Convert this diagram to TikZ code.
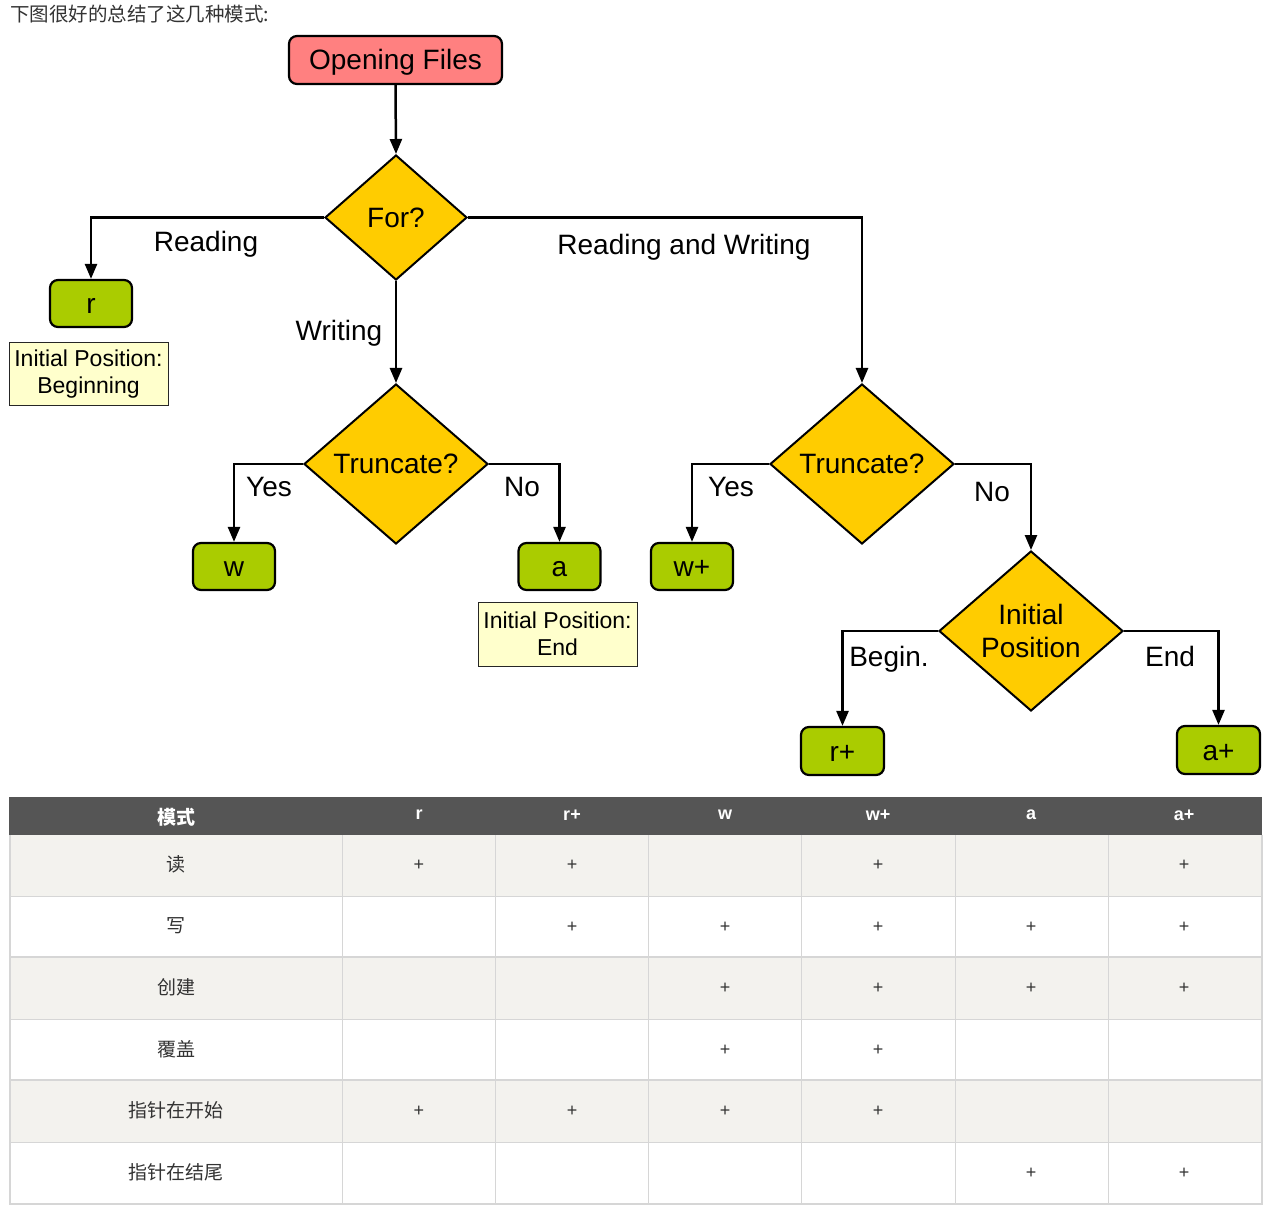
\documentclass[tikz,border=0pt]{standalone}
\usepackage{fontspec}
\setmainfont{Liberation Sans}
\newfontfamily\cjk{Noto Sans CJK SC}
\usetikzlibrary{arrows.meta,shapes.geometric}
\definecolor{salmon}{RGB}{255,128,128}
\definecolor{gold}{RGB}{255,204,0}
\definecolor{lime}{RGB}{170,204,0}
\definecolor{notey}{RGB}{255,255,204}
\definecolor{hdr}{RGB}{85,85,85}
\definecolor{rowg}{RGB}{243,242,238}
\definecolor{gridc}{RGB}{214,214,214}
\definecolor{txt}{RGB}{51,51,51}
\begin{document}
\begin{tikzpicture}[x=1pt,y=-1pt,
  bigf/.style={font=\fontsize{28}{32}\selectfont},
  modebox/.style={draw, line width=2.2pt, rounded corners=8pt, fill=lime, minimum width=82pt, minimum height=47pt, inner sep=0pt, text height=20pt, text depth=0pt, bigf},
  startbox/.style={modebox, fill=salmon, minimum width=213pt, minimum height=48pt},
  dia/.style={diamond, draw, fill=gold, line width=2pt, inner sep=0pt},
  notebox/.style={draw=black!85, line width=1pt, fill=notey, minimum width=159pt, minimum height=63pt, inner sep=0pt, align=center, font=\fontsize{23}{27}\selectfont},
  arr/.style={line width=2.5pt, -{Triangle[length=15pt,width=12pt]}},
  lbl/.style={bigf, inner sep=0pt, text height=20pt, text depth=0pt},
  cjkcell/.style={font=\cjk\fontsize{19}{22}\selectfont, text=txt},
  pluscell/.style={font=\fontsize{18}{20}\selectfont, text=txt},
  hcell/.style={font=\bfseries\fontsize{18}{20}\selectfont, text=white}
]
\useasboundingbox (0,0) rectangle (1277,1214);

% intro text
\node[anchor=west, cjkcell, font=\cjk\fontsize{19.5}{22}\selectfont, inner sep=0pt] (intro) at (10,14) {下图很好的总结了这几种模式:};

% flowchart nodes
\node[startbox] (open) at (395.5,60) {Opening Files};
\node[dia, minimum width=142pt, minimum height=125pt] (for) at (396,217.5) {};
\node[bigf] (fortxt) at (for.center) {For?};
\node[modebox] (r) at (91,303.5) {r};
\node[notebox] (nb) at (88.5,374.5) {Initial Position:\\Beginning};
\node[dia, minimum width=184pt, minimum height=160pt] (t1) at (396,464) {};
\node[bigf] (t1txt) at (t1.center) {Truncate?};
\node[modebox] (w) at (234,566.5) {w};
\node[modebox] (a) at (559.5,566.5) {a};
\node[notebox, minimum height=64pt] (ne) at (557.5,634) {Initial Position:\\End};
\node[dia, minimum width=184pt, minimum height=160pt] (t2) at (862,464) {};
\node[bigf] (t2txt) at (t2.center) {Truncate?};
\node[modebox] (wp) at (692,566.5) {w+};
\node[dia, minimum width=184pt, minimum height=160pt] (ip) at (1031,631) {};
\node[bigf, align=center, font=\fontsize{28}{33}\selectfont] (iptxt) at (ip.center) {Initial\\Position};
\node[modebox, minimum width=83pt, minimum height=48pt] (rp) at (842.5,751) {r+};
\node[modebox, minimum width=83pt, minimum height=48pt] (ap) at (1218.5,750) {a+};

% connectors
\draw[arr] (open.south) -- (for.north);
\draw[arr] (for.west) -| (r.north);
\draw[arr] (for.south) -- (t1.north);
\draw[arr] (for.east) -| (t2.north);
\draw[arr] (t1.west) -| (w.north);
\draw[arr] (t1.east) -| (a.north);
\draw[arr] (t2.west) -| (wp.north);
\draw[arr] (t2.east) -| (ip.north);
\draw[arr] (ip.west) -| (rp.north);
\draw[arr] (ip.east) -| (ap.north);

% labels
\node[lbl] (l1) at (206,242) {Reading};
\node[lbl] (l2) at (339,331) {Writing};
\node[lbl] (l3) at (684,245) {Reading and Writing};
\node[lbl] (l4) at (269,486) {Yes};
\node[lbl] (l5) at (522,486) {No};
\node[lbl] (l6) at (731,486) {Yes};
\node[lbl] (l7) at (992,491) {No};
\node[lbl] (l8) at (889,656) {Begin.};
\node[lbl] (l9) at (1170,656) {End};

% table
\fill[hdr] (9,797) rectangle (1262,835);
\fill[rowg] (9,835) rectangle (1262,896);
\fill[rowg] (9,957) rectangle (1262,1019);
\fill[rowg] (9,1080) rectangle (1262,1142);
\foreach \yy in {896,1019,1142} \draw[gridc, line width=1pt] (9,\yy) -- (1262,\yy);
\foreach \yy in {957,1080} \draw[gridc, line width=2pt] (9,\yy) -- (1262,\yy);
\foreach \xx in {342,495,648,801,955,1108} \draw[gridc, line width=1pt] (\xx,835) -- (\xx,1203);
\draw[gridc, line width=2pt] (9.5,835) -- (9.5,1203.5) -- (1261.5,1203.5) -- (1261.5,835);

\node[hcell, font=\cjk\bfseries\fontsize{19}{22}\selectfont] (h0) at (176,817) {模式};
\foreach \t [count=\i] in {r,r+,w,w+,a,a+}
  \node[hcell] (h\i) at ({266+153*\i},815) {\t};

\foreach \t [count=\j] in {读,写,创建,覆盖,指针在开始,指针在结尾}
  \node[cjkcell] (rl\j) at (176,{803+61.5*\j}) {\t};

\foreach \i/\j in {1/1,2/1,4/1,6/1, 2/2,3/2,4/2,5/2,6/2, 3/3,4/3,5/3,6/3, 3/4,4/4, 1/5,2/5,3/5,4/5, 5/6,6/6}
  \node[pluscell] (p\i-\j) at ({266+153*\i},{804+61.5*\j}) {+};
\end{tikzpicture}
\end{document}
